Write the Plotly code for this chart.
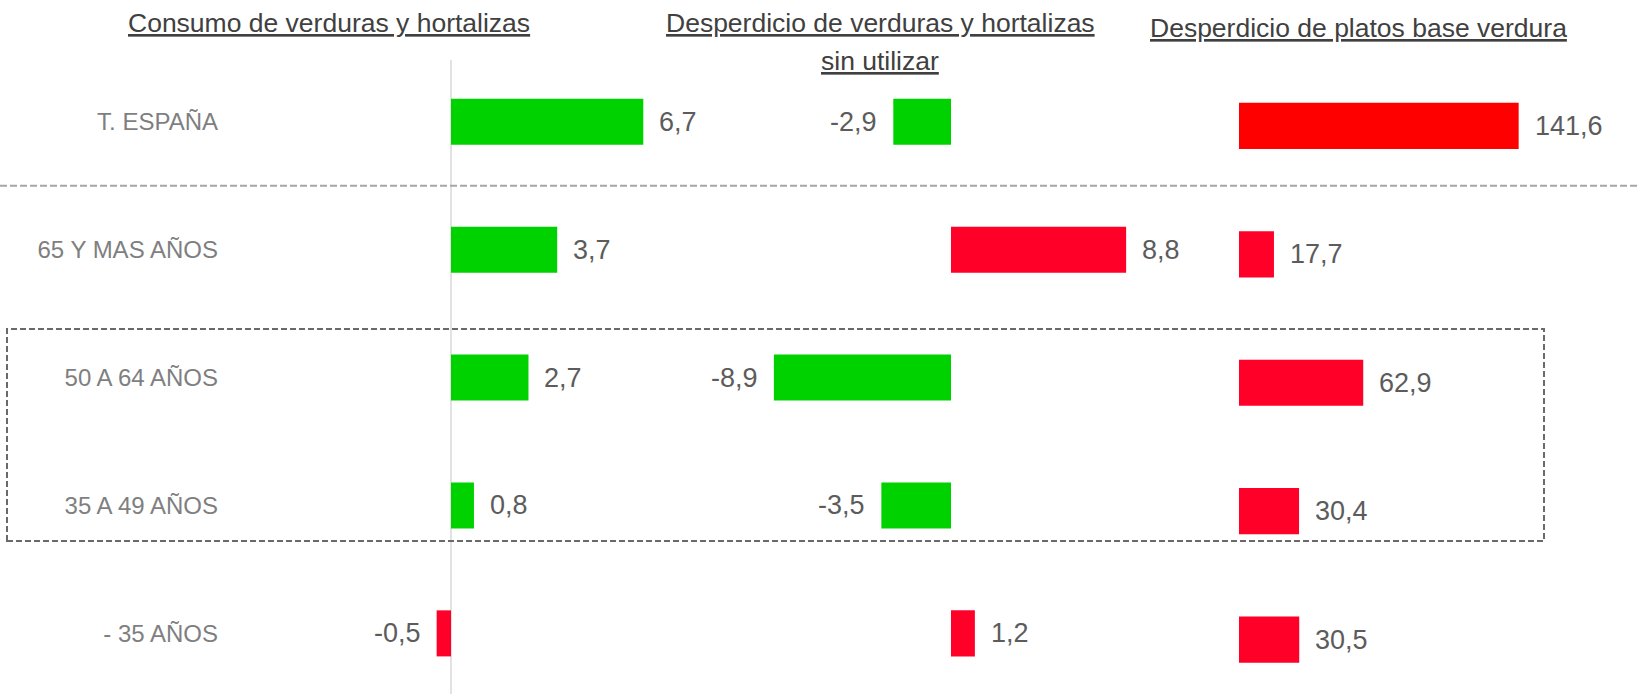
import plotly.graph_objects as go

# Age groups (rows, top to bottom)
groups = ["T. ESPAÑA", "65 Y MAS AÑOS", "50 A 64 AÑOS", "35 A 49 AÑOS", "- 35 AÑOS"]

# Panel values
consumo = [6.7, 3.7, 2.7, 0.8, -0.5]
desperdicio_sin_utilizar = [-2.9, 8.8, -8.9, -3.5, 1.2]
desperdicio_platos = [141.6, 17.7, 62.9, 30.4, 30.5]

# Panel headings
titles = [
    "Consumo de verduras y hortalizas",
    "Desperdicio de verduras y hortalizas",
    "sin utilizar",
    "Desperdicio de platos base verdura",
]

W, H = 1639, 694
FONT = "Liberation Sans, Arial, sans-serif"
GREEN = "#00D200"
RED = "#FF0029"
PURE_RED = "#FF0000"
VALUE_COLOR = "#5c5c5c"
LABEL_COLOR = "#7f7f7f"
TITLE_COLOR = "#404040"

rows = list(range(len(groups)))


def fmt(v):
    return f"{v:.1f}".replace(".", ",")


# More consumption is good (green); more waste is bad (red)
col_consumo = [GREEN if v >= 0 else RED for v in consumo]
col_sin = [GREEN if v < 0 else RED for v in desperdicio_sin_utilizar]
col_platos = [PURE_RED if i == 0 else RED for i in rows]

fig = go.Figure()
BAR_W = 0.36
fig.add_trace(go.Bar(x=consumo, y=rows, orientation="h", width=BAR_W,
                     marker=dict(color=col_consumo, line=dict(width=0)),
                     xaxis="x", yaxis="y", hoverinfo="skip"))
fig.add_trace(go.Bar(x=desperdicio_sin_utilizar, y=rows, orientation="h", width=BAR_W,
                     marker=dict(color=col_sin, line=dict(width=0)),
                     xaxis="x2", yaxis="y", hoverinfo="skip"))
fig.add_trace(go.Bar(x=desperdicio_platos, y=rows, orientation="h", width=BAR_W,
                     marker=dict(color=col_platos, line=dict(width=0)),
                     xaxis="x3", yaxis="y2", hoverinfo="skip"))


def px_axis(lo_px, hi_px, zero_px, px_per_unit):
    return dict(domain=[lo_px / W, hi_px / W],
                range=[(lo_px - zero_px) / px_per_unit, (hi_px - zero_px) / px_per_unit],
                visible=False, fixedrange=True)


annotations = []
value_font = dict(family=FONT, size=27, color=VALUE_COLOR)
for xref, yref, vals in (("x", "y", consumo),
                         ("x2", "y", desperdicio_sin_utilizar),
                         ("x3", "y2", desperdicio_platos)):
    for i, v in enumerate(vals):
        annotations.append(dict(
            x=v, y=i, xref=xref, yref=yref, text=fmt(v), showarrow=False,
            xanchor="left" if v >= 0 else "right", yanchor="middle",
            xshift=14 if v >= 0 else -14, font=value_font))

title_font = dict(family=FONT, size=26.5, color=TITLE_COLOR, lineposition="under")
for text, cx, cy in ((titles[0], 329, 23), (titles[1], 880, 23),
                     (titles[2], 880, 61), (titles[3], 1358, 28)):
    annotations.append(dict(
        x=cx / W, y=1 - cy / H, xref="paper", yref="paper", text=text,
        showarrow=False, xanchor="center", yanchor="middle", font=title_font))

shapes = [
    # zero line of the consumption panel
    dict(type="line", xref="x", x0=0, x1=0, yref="paper", y0=0, y1=1 - 60 / H,
         line=dict(color="#d9d9d9", width=1.5), layer="below"),
    # separator between the total and the age groups
    dict(type="line", xref="paper", x0=0, x1=1, yref="y", y0=0.5, y1=0.5,
         line=dict(color="#a6a6a6", width=2, dash="7px,3px")),
    # highlight box around the middle-aged groups
    dict(type="rect", xref="paper", x0=7 / W, x1=1544 / W,
         yref="paper", y0=1 - 541 / H, y1=1 - 329 / H,
         line=dict(color="#6a6a6a", width=2, dash="6px,3px"),
         fillcolor="rgba(0,0,0,0)"),
]

fig.update_layout(
    width=W, height=H,
    margin=dict(l=0, r=0, t=0, b=0),
    paper_bgcolor="white", plot_bgcolor="rgba(0,0,0,0)",
    showlegend=False, barmode="overlay",
    font=dict(family=FONT),
    xaxis=dict(**px_axis(240, 700, 451, 28.7), anchor="y"),
    xaxis2=dict(**px_axis(720, 1160, 951, 19.9), anchor="y"),
    xaxis3=dict(**px_axis(1180, 1600, 1239, 1.975), anchor="y2"),
    yaxis=dict(domain=[0, 1], range=[4.474, -0.952], anchor="free", position=218 / W,
               tickmode="array", tickvals=rows, ticktext=groups, ticks="",
               showgrid=False, zeroline=False, showline=False, fixedrange=True,
               tickfont=dict(family=FONT, size=24, color=LABEL_COLOR)),
    yaxis2=dict(domain=[0, 1], range=[4.424, -0.981], overlaying="y", anchor="x3",
                visible=False, fixedrange=True),
    annotations=annotations,
    shapes=shapes,
)

fig.write_html("out.html", config={"displayModeBar": False})
